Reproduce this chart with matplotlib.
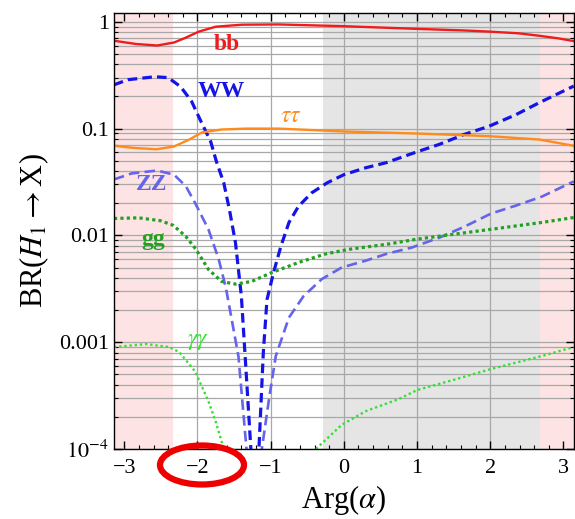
import numpy as np
import matplotlib
matplotlib.use("Agg")
import matplotlib.pyplot as plt
from matplotlib.patches import Ellipse
from matplotlib.ticker import MultipleLocator, LogLocator, NullFormatter

plt.rcParams['font.family'] = ['Liberation Serif', 'DejaVu Serif']
plt.rcParams['mathtext.fontset'] = 'stix'

# branching ratios vs Arg(alpha)
x_bb = [-3.14, -2.84, -2.55, -2.32, -2.16, -1.98, -1.75, -1.39, -0.89, 0.0, 0.98,
        1.64, 1.98, 2.39, 2.67, 2.93, 3.14]
br_bb = [0.665, 0.62, 0.60, 0.64, 0.71, 0.81, 0.90, 0.94, 0.945, 0.91, 0.86,
         0.83, 0.81, 0.78, 0.74, 0.70, 0.66]

x_ww = [-3.14, -2.95, -2.58, -2.40, -2.23, -2.08, -1.95, -1.82, -1.74, -1.64, -1.56,
        -1.48, -1.40, -1.34, -1.27, -1.22, -1.16, -1.10, -1.05, -0.96, -0.86, -0.75,
        -0.62, -0.44, -0.23, 0.0, 0.30, 0.58, 0.98, 1.30, 1.64, 1.98, 2.35, 2.67, 3.14]
br_ww = [0.257, 0.287, 0.306, 0.30, 0.247, 0.18, 0.116, 0.076, 0.049, 0.031, 0.017,
         0.0085, 0.0027, 0.0006, 1e-4, 1e-6, 1e-4, 0.0008, 0.0025, 0.0045, 0.0079, 0.0132,
         0.0187, 0.025, 0.031, 0.037, 0.043, 0.048, 0.06, 0.071, 0.088, 0.105, 0.135,
         0.175, 0.25]

x_tt = [-3.14, -2.88, -2.56, -2.32, -2.11, -1.94, -1.67, -1.34, -0.89, 0.0, 0.98,
        1.98, 2.67, 3.14]
br_tt = [0.069, 0.066, 0.064, 0.068, 0.079, 0.092, 0.098, 0.10, 0.10, 0.094, 0.09,
         0.085, 0.079, 0.069]

x_zz = [-3.14, -2.9, -2.55, -2.32, -2.16, -2.03, -1.85, -1.71, -1.61, -1.44, -1.33,
        -1.22, -1.12, -1.02, -0.93, -0.75, -0.55, -0.30, -0.03, 0.30, 0.58, 0.93, 1.30,
        1.64, 2.01, 2.35, 2.70, 3.14]
br_zz = [0.0334, 0.038, 0.0405, 0.037, 0.029, 0.020, 0.0114, 0.006, 0.0032, 0.00074,
         1e-4, 1e-6, 1e-4, 0.0003, 0.00074, 0.0017, 0.0027, 0.0039, 0.0050, 0.0058,
         0.0067, 0.0077, 0.0095, 0.012, 0.016, 0.019, 0.023, 0.032]

x_gg = [-3.14, -2.8, -2.5, -2.33, -2.16, -2.02, -1.85, -1.67, -1.48, -1.26, -0.98,
        -0.61, -0.25, 0.07, 0.61, 0.99, 2.01, 2.70, 3.14]
br_gg = [0.0144, 0.0146, 0.0137, 0.0124, 0.0098, 0.0074, 0.0048, 0.0037, 0.0035,
         0.0037, 0.0045, 0.0056, 0.0067, 0.0074, 0.0083, 0.0092, 0.0114, 0.0132, 0.0147]

x_aa = [-3.14, -2.70, -2.39, -2.25, -2.03, -1.85, -1.75, -1.64, -1.5, -0.6, -0.38,
        -0.03, 0.30, 0.75, 1.0, 1.44, 2.01, 2.70, 3.14]
br_aa = [0.0009, 0.00096, 0.0009, 0.00081, 0.00053, 0.00028, 0.00018, 1e-4, 3e-5,
         2e-5, 1e-4, 0.000168, 0.000226, 0.000293, 0.000356, 0.000432, 0.00056,
         0.00074, 0.0009]

excluded = [(-np.pi, -2.33), (2.68, np.pi)]
shaded = (-0.29, 2.68)

fig = plt.figure(figsize=(5.75, 5.19), dpi=100)
ax = fig.add_axes([0.198, 0.135, 0.800, 0.840])

for a, b in excluded:
    ax.axvspan(a, b, color='#fde3e3', lw=0, zorder=0)
ax.axvspan(*shaded, color='#e5e5e5', lw=0, zorder=0)

ax.plot(x_bb, br_bb, color='#f01c1c', lw=1.7)
ax.plot(x_ww, br_ww, color='#1414e6', lw=2.3, ls=(0, (3, 1.6)))
ax.plot(x_tt, br_tt, color='#ff8c1a', lw=1.7)
ax.plot(x_zz, br_zz, color='#6464ec', lw=1.9, ls=(0, (4, 2)))
ax.plot(x_gg, br_gg, color='#22a022', lw=2.3, ls=(0, (1, 1)))
ax.plot(x_aa, br_aa, color='#33e033', lw=1.7, ls=(0, (1, 1.2)))

lab = dict(fontsize=17, ha='center', va='center')
ax.text(-1.60, 0.61, 'bb', color='#f01c1c', fontweight='bold', **lab)
ax.text(-1.68, 0.222, 'WW', color='#1414e6', fontweight='bold', **lab)
ax.text(-0.73, 0.129, r'$\tau\tau$', color='#ff8c1a', **lab)
ax.text(-2.63, 0.030, 'ZZ', color='#6464ec', fontweight='bold', **lab)
ax.text(-2.60, 0.0092, 'gg', color='#22a022', fontweight='bold', **lab)
ax.text(-1.99, 0.00102, r'$\gamma\gamma$', color='#33e033', **lab)

ax.set_yscale('log')
ax.set_xlim(-np.pi, np.pi)
ax.set_ylim(1e-4, 1.21)

ax.xaxis.set_minor_locator(MultipleLocator(0.2))
ax.set_xticks([-3, -2, -1, 0, 1, 2, 3])
ax.set_xticklabels(['\u22123', '\u22122', '\u22121', '0', '1', '2', '3'])
ax.set_yticks([1e-4, 1e-3, 1e-2, 1e-1, 1])
ax.set_yticklabels([r'$10^{-4}$', '0.001', '0.01', '0.1', '1'])
ax.yaxis.set_minor_locator(LogLocator(base=10, subs=np.arange(2, 10)))
ax.yaxis.set_minor_formatter(NullFormatter())

ax.tick_params(which='both', direction='in', top=True, right=True, labelsize=16, color='black')
ax.tick_params(which='major', length=6, width=1)
ax.tick_params(which='minor', length=3, width=0.8)
ax.tick_params(axis='x', pad=7)

ax.set_axisbelow(True)
ax.grid(True, which='major', axis='x', color='#a8a8a8', lw=0.9)
ax.grid(True, which='both', axis='y', color='#a8a8a8', lw=0.9)
# no vertical grid inside the excluded bands
for t in ax.xaxis.get_major_ticks():
    if abs(t.get_loc()) > 2.5:
        t.gridline.set_visible(False)

for s in ax.spines.values():
    s.set_linewidth(1.0)

ax.set_xlabel(r'Arg($\alpha$)', fontsize=22, labelpad=4)
ax.set_ylabel(r'BR($H_1 \rightarrow$X)', fontsize=22, labelpad=6)

fig.add_artist(Ellipse((202 / 575, 1 - 465 / 519), 84 / 575, 39 / 519,
                       transform=fig.transFigure, fill=False, ec='#ee0000', lw=4.5))

fig.savefig('out.png', dpi=100)
